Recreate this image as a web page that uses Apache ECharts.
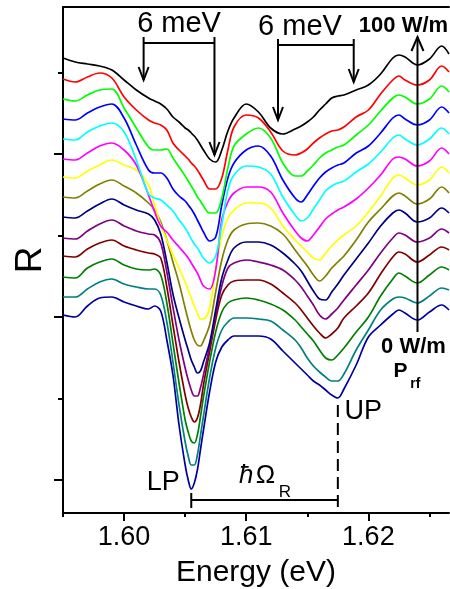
<!DOCTYPE html>
<html><head><meta charset="utf-8">
<script src="https://cdn.jsdelivr.net/npm/echarts@6.0.0/dist/echarts.min.js"></script>
<style>html,body{margin:0;padding:0;background:#fff}#c{width:450px;height:589px}</style>
</head><body><div id="c"></div>
<script>
// Photon energy grid (eV)
const energy = [1.595,1.596,1.597,1.598,1.599,1.600,1.601,1.602,1.6025,1.603,1.6035,1.604,1.6045,1.605,1.60525,1.6055,1.60575,1.606,1.60625,1.6065,1.607,1.6075,1.608,1.6085,1.609,1.610,1.611,1.612,1.613,1.614,1.6145,1.615,1.6155,1.616,1.6165,1.617,1.6175,1.618,1.619,1.620,1.621,1.622,1.6225,1.623,1.624,1.625,1.626,1.6266];
// Reflectance (arb. units, vertically offset), top = 100 W/m ... bottom = 0 W/m
const rBlack   = [462,458,456,454,450,440,430,422,419,416,411,403,398,392,390,387,384,380,375,370,361,358,370,389,402,416,408,392,386,391,394,398,403,410,416,422,424,425,430,435,446,462,465,463,455,461,474,466];
const rRed     = [441,438,443,447,442,423,410,400,397,395,390,377,370,364,361,357,354,350,345,340,331,331,342,370,393,405,402,388,369,365,367,371,377,382,386,389,390,393,403,410,426,440,444,440,435,440,454,448];
const rLime    = [421,419,425,430,431,412,392,373,370,370,371,362,353,344,339,334,329,323,319,314,307,307,322,352,374,386,392,382,357,344,344,349,355,362,367,370,373,375,385,395,409,422,425,423,416,421,434,428];
const rBlue    = [401,400,407,413,416,402,375,350,347,347,342,331,324,319,315,311,306,300,294,288,279,283,315,342,357,370,374,364,340,322,318,325,334,342,348,352,355,357,367,374,387,402,405,401,395,400,413,407];
const rCyan    = [381,380,388,394,397,388,360,326,322,320,315,309,300,292,287,281,276,272,267,262,257,264,295,330,345,354,353,346,323,305,299,302,311,320,329,334,337,339,348,356,368,382,385,381,375,381,392,386];
const rMagenta = [361,360,367,374,377,370,355,325,308,294,288,280,273,266,262,257,252,247,240,234,231,250,300,318,327,333,333,328,307,289,282,279,285,293,301,306,310,313,321,332,345,361,363,361,354,359,372,366];
const rYellow  = [343,342,349,355,360,355,350,335,315,295,280,265,252,238,230,222,214,207,201,201,212,252,283,302,310,317,317,312,294,280,274,268,262,260,267,274,280,285,294,308,324,342,345,342,335,340,353,347];
const rOlive   = [323,322,329,336,340,334,327,317,310,298,280,258,237,212,200,189,180,175,174,179,195,228,260,280,290,296,297,294,286,270,262,254,245,239,244,252,258,264,280,298,311,324,327,324,316,321,333,327];
const rNavy    = [303,302,309,316,321,315,310,306,300,286,258,226,202,180,170,160,153,147,149,158,177,210,242,260,272,278,278,275,267,256,249,239,229,221,220,228,236,245,261,277,294,307,310,307,298,302,312,307];
const rPurple  = [282,281,289,296,300,294,289,286,285,277,248,213,180,152,140,130,124,124,132,145,173,205,234,252,257,260,258,255,250,240,233,224,215,205,201,206,212,220,235,250,267,282,287,285,278,282,291,287];
const rWine    = [264,263,271,277,280,274,270,267,266,262,233,195,158,125,112,103,98,102,115,135,168,200,225,235,239,240,240,236,227,217,210,202,194,187,182,186,192,202,214,227,246,263,268,266,258,265,273,270];
const rGreen   = [243,242,252,258,261,255,251,250,251,245,217,177,137,100,88,79,77,85,103,123,158,188,208,217,220,222,220,216,210,200,193,186,179,170,162,160,165,172,188,203,224,241,247,244,237,245,253,250];
const rTeal    = [223,223,231,238,241,236,233,231,231,225,198,158,115,78,64,55,55,65,84,104,142,172,190,198,202,202,201,199,190,180,172,162,154,148,143,139,139,146,170,190,210,221,223,222,217,224,232,230];
const rRoyal   = [205,203,214,222,223,218,214,211,214,209,180,145,95,55,40,31,37,50,70,90,128,158,173,180,184,184,184,181,169,157,151,145,139,135,130,125,122,131,155,183,195,206,210,207,200,208,215,210];

const curves = [rBlack,rRed,rLime,rBlue,rCyan,rMagenta,rYellow,rOlive,rNavy,rPurple,rWine,rGreen,rTeal,rRoyal];
const colors = ['#000000','#ff0000','#00ff00','#0000ff','#00ffff','#ff00ff','#ffff00','#808000','#000080','#800080','#800000','#008000','#008080','#0000a0'];

const xMajor = [1.60, 1.61, 1.62];
const xMinor = [1.595, 1.605, 1.615, 1.625];
const yMajor = [40, 203, 366];
const yMinor = [121.5, 284.5, 447.5];
const X_MIN = 1.595, X_MAX = 1.6266, Y_MIN = 7, Y_MAX = 513;

const FONT = '"Liberation Sans", Arial, sans-serif';
const chart = echarts.init(document.getElementById('c'), null, {renderer: 'canvas'});

const series = curves.map((vals, i) => ({
  type: 'line', name: 'c' + i, xAxisIndex: 0, yAxisIndex: 0,
  data: energy.map((e, k) => [e, vals[k]]),
  showSymbol: false, symbol: 'none', smooth: 0.35,
  lineStyle: {color: colors[i], width: 1.7}, itemStyle: {color: colors[i]},
  z: 2 + (14 - i)
}));

const baseX = {type: 'value', min: X_MIN, max: X_MAX, splitLine: {show: false}};
const baseY = {type: 'value', min: Y_MIN, max: Y_MAX, splitLine: {show: false}};

chart.setOption({
  animation: false,
  backgroundColor: '#fff',
  textStyle: {fontFamily: FONT},
  grid: {left: 63, right: 1, top: 7, bottom: 76, containLabel: false, outerBoundsMode: 'none'},
  xAxis: [
    Object.assign({}, baseX, {
      position: 'bottom',
      axisLine: {show: true, onZero: false, lineStyle: {color: '#000', width: 2}},
      axisTick: {show: true, customValues: xMajor, length: 8, lineStyle: {color: '#000', width: 2}},
      axisLabel: {show: true, customValues: xMajor, formatter: v => v.toFixed(2), fontSize: 27, color: '#000', margin: 11, fontFamily: FONT},
      name: 'Energy (eV)', nameLocation: 'middle', nameGap: 45,
      nameTextStyle: {fontSize: 30, color: '#000', fontFamily: FONT}
    }),
    Object.assign({}, baseX, {
      position: 'bottom',
      axisLine: {show: false, onZero: false},
      axisTick: {show: true, customValues: xMinor, length: 4, lineStyle: {color: '#000', width: 2}},
      axisLabel: {show: false}
    }),
    Object.assign({}, baseX, {
      position: 'top',
      axisLine: {show: true, onZero: false, lineStyle: {color: '#000', width: 2}},
      axisTick: {show: false}, axisLabel: {show: false}
    })
  ],
  yAxis: [
    Object.assign({}, baseY, {
      position: 'left',
      axisLine: {show: true, onZero: false, lineStyle: {color: '#000', width: 2}},
      axisTick: {show: true, customValues: yMajor, length: 9, lineStyle: {color: '#000', width: 2}},
      axisLabel: {show: false},
      name: 'R', nameLocation: 'middle', nameGap: 14,
      nameTextStyle: {fontSize: 37, color: '#000', fontFamily: FONT}
    }),
    Object.assign({}, baseY, {
      position: 'left',
      axisLine: {show: false, onZero: false},
      axisTick: {show: true, customValues: yMinor, length: 5, lineStyle: {color: '#000', width: 2}},
      axisLabel: {show: false}
    })
  ],
  series: series
});

// Annotations in data coordinates (energy, R)
const ann = {
  bar1: {e0: 1.6016, e1: 1.6074, r: 477, tip0: 440, tip1: 365, label: [1.6045, 496]},
  bar2: {e0: 1.6126, e1: 1.6188, r: 475, tip0: 400, tip1: 438, label: [1.6144, 493]},
  power: {e: 1.62402, r0: 188, r1: 483},
  rabi: {e0: 1.6055, e1: 1.6175, r: 20, dashTop: 115}
};
const P = (e, r) => chart.convertToPixel({xAxisIndex: 0, yAxisIndex: 0}, [e, r]);
const L = (x1, y1, x2, y2, dash) => ({type: 'line', z: 100, silent: true,
  shape: {x1, y1, x2, y2}, style: {stroke: '#000', lineWidth: 2, lineDash: dash || null}});
const head = (x, yTip, dir, hw, hl) => ({type: 'polyline', z: 100, silent: true,
  shape: {points: [[x - hw, yTip - dir * hl], [x, yTip], [x + hw, yTip - dir * hl]]},
  style: {stroke: '#000', lineWidth: 2, fill: null}});
const T = (text, x, y, font, extra) => Object.assign({type: 'text', z: 100, silent: true,
  style: {text, x, y, font, fill: '#000', align: 'center', verticalAlign: 'middle'}}, extra || {});

const g = [];
[ann.bar1, ann.bar2].forEach(b => {
  const a = P(b.e0, b.r), c = P(b.e1, b.r);
  g.push(L(a[0], a[1], c[0], c[1]));
  const t0 = P(b.e0, b.tip0), t1 = P(b.e1, b.tip1);
  g.push(L(a[0], a[1] - 6, t0[0], t0[1]));
  g.push(L(c[0], c[1] - 6, t1[0], t1[1]));
  g.push(head(t0[0], t0[1], 1, 5, 13));
  g.push(head(t1[0], t1[1], 1, 5, 13));
  const lp = P(b.label[0], b.label[1]);
  g.push(T('6 meV', lp[0], lp[1], '29px ' + FONT));
});
// power arrow
{
  const b = P(ann.power.e, ann.power.r0), t = P(ann.power.e, ann.power.r1);
  g.push(L(b[0], b[1], t[0], t[1]));
  g.push(head(t[0], t[1], -1, 6, 14));
}
// Rabi splitting bar
{
  const a = P(ann.rabi.e0, ann.rabi.r), c = P(ann.rabi.e1, ann.rabi.r);
  g.push(L(a[0], a[1], c[0], c[1]));
  g.push(L(a[0], a[1] - 7, a[0], a[1] + 8));
  const d = P(ann.rabi.e1, ann.rabi.dashTop);
  g.push(L(d[0], d[1], c[0], c[1] + 8, [12, 6]));
}
// texts
const tp = (e, r) => P(e, r);
let q;
q = tp(1.62287, 494); g.push(T('100 W/m', q[0], q[1], 'bold 22px ' + FONT));
q = tp(1.62369, 173); g.push(T('0 W/m', q[0], q[1], 'bold 22px ' + FONT));
q = tp(1.62262, 149); g.push(T('P', q[0], q[1], 'bold 21px ' + FONT));
q = tp(1.62385, 136); g.push(T('rf', q[0], q[1], 'bold 14px ' + FONT));
q = tp(1.60320, 37);  g.push(T('LP', q[0], q[1], '27px ' + FONT));
q = tp(1.61959, 108); g.push(T('UP', q[0], q[1], '27px ' + FONT));
q = tp(1.61000, 44);  g.push(T('\u0127', q[0], q[1], 'italic 26px ' + FONT));
q = tp(1.61157, 44);  g.push(T('\u03A9', q[0], q[1], '26px ' + FONT));
q = tp(1.61317, 28);  g.push(T('R', q[0], q[1], '17px ' + FONT));

chart.setOption({graphic: {elements: g}});
</script>
</body></html>
